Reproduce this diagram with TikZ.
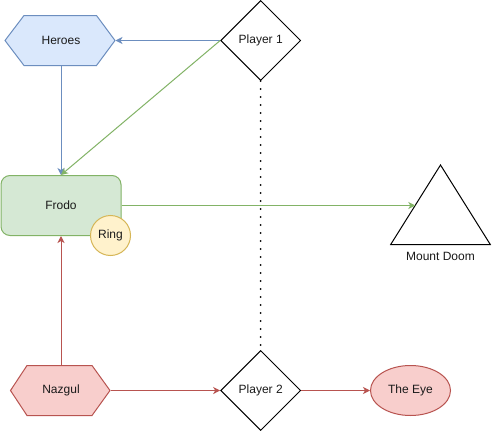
\documentclass[tikz,border=0pt]{standalone}
\usepackage{fontspec}
\setmainfont{Liberation Sans}
\usetikzlibrary{shapes.geometric,arrows.meta}
\definecolor{bluefill}{HTML}{DAE8FC}
\definecolor{bluestroke}{HTML}{6C8EBF}
\definecolor{greenfill}{HTML}{D5E8D4}
\definecolor{greenstroke}{HTML}{82B366}
\definecolor{yellowfill}{HTML}{FFF2CC}
\definecolor{yellowstroke}{HTML}{D6B656}
\definecolor{redfill}{HTML}{F8CECC}
\definecolor{redstroke}{HTML}{B85450}
\definecolor{txt}{HTML}{1A1A1A}
\begin{document}
\begin{tikzpicture}[x=1pt,y=-1pt,line width=1pt,
  every node/.style={font=\fontsize{12}{14}\selectfont,text=txt},
  tip/.style={-{Stealth[length=7pt,width=7pt,inset=2pt]}},
  hexbox/.style={rectangle,inner sep=0,minimum width=#1,minimum height=50},
  decision/.style={diamond,draw=black,fill=white,inner sep=0,minimum width=80,minimum height=80,aspect=1},
  bluearrow/.style={tip,draw=bluestroke},
  greenarrow/.style={tip,draw=greenstroke},
  redarrow/.style={tip,draw=redstroke}]
\useasboundingbox (0,0) rectangle (501,431);
\fill[white] (0,0) rectangle (501,431);

% Heroes hexagon
\filldraw[fill=bluefill,draw=bluestroke] (5,40.5) -- (24,15.5) -- (96.5,15.5) -- (115,40.5) -- (96.5,65.5) -- (24,65.5) -- cycle;
\node[hexbox=108] (heroes) at (61,40.5) {Heroes};

% Nazgul hexagon
\filldraw[fill=redfill,draw=redstroke] (10.5,390.5) -- (27,365.5) -- (92,365.5) -- (110,390.5) -- (92,415.5) -- (27,415.5) -- cycle;
\node[hexbox=98] (nazgul) at (61,390.5) {Nazgul};

% Player diamonds
\node[decision] (p1) at (260.7,40.5) {Player 1};
\node[decision] (p2) at (260.7,390.5) {Player 2};

% Frodo
\node[rectangle,rounded corners=9pt,draw=greenstroke,fill=greenfill,minimum width=120,minimum height=60,inner sep=0] (frodo) at (61,205.5) {Frodo};

% Mount Doom triangle
\draw[black] (390.7,244.5) -- (440.5,165) -- (490.3,244.5) -- cycle;
\coordinate (doom) at (415.3,205.5);
\node (doomlabel) at (440.5,256.5) {Mount Doom};

% The Eye
\node[ellipse,draw=redstroke,fill=redfill,minimum width=80,minimum height=50,inner sep=0] (eye) at (410.5,390.5) {The Eye};

% dotted line
\draw[black,line width=2pt,line cap=round,dash pattern=on 0pt off 8pt] (p1.south) -- (p2.north);

% connectors
\draw[bluearrow] (p1.west) -- (heroes.east);
\draw[bluearrow] (heroes.south) -- (frodo.north);
\draw[greenarrow] (p1.west) -- (frodo.north);
\draw[greenarrow] (frodo.east) -- (doom);
\draw[redarrow] (nazgul.north) -- (frodo.south);
\draw[redarrow] (nazgul.east) -- (p2.west);
\draw[redarrow] (p2.east) -- (eye.west);

% Ring
\node[circle,draw=yellowstroke,fill=yellowfill,minimum size=40,inner sep=0] (ring) at (110.5,235.5) {Ring};
\end{tikzpicture}
\end{document}
